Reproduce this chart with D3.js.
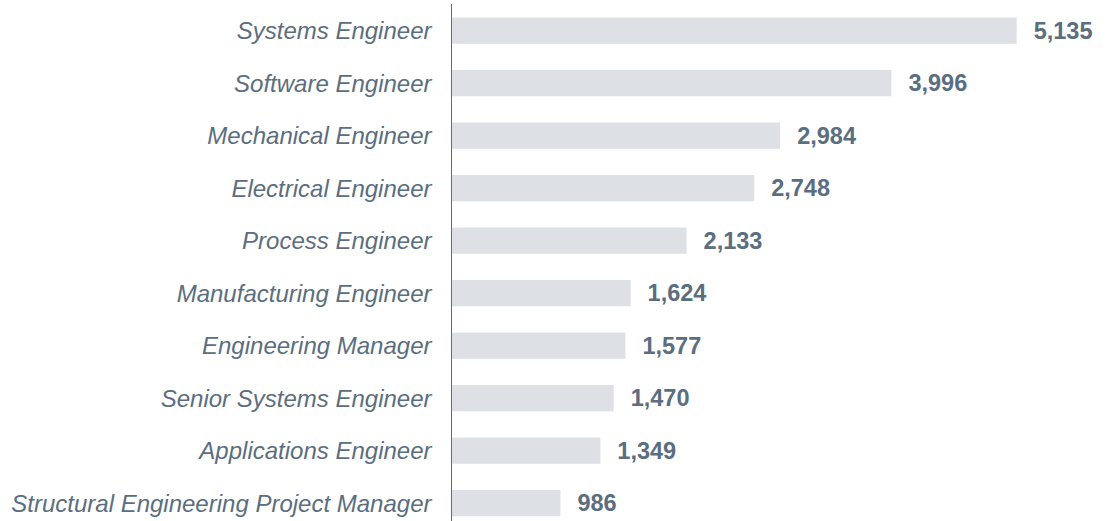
<!DOCTYPE html>
<html>
<head>
<meta charset="utf-8">
<script src="https://cdn.jsdelivr.net/npm/d3@7"></script>
<style>
  html, body { margin: 0; padding: 0; background: #fff; overflow: hidden; }
  svg { display: block; }
</style>
</head>
<body>
<svg id="chart" width="1109" height="521"></svg>
<script>
const categories = [
  "Systems Engineer",
  "Software Engineer",
  "Mechanical Engineer",
  "Electrical Engineer",
  "Process Engineer",
  "Manufacturing Engineer",
  "Engineering Manager",
  "Senior Systems Engineer",
  "Applications Engineer",
  "Structural Engineering Project Manager"
];
const values = [5135, 3996, 2984, 2748, 2133, 1624, 1577, 1470, 1349, 986];

const data = categories.map((c, i) => ({ name: c, value: values[i] }));

const svg = d3.select("#chart");
const axisX = 451.5;
const barX0 = 452;

const x = d3.scaleLinear()
  .domain([0, 5135])
  .range([barX0, 1016.7]);

const y = d3.scaleBand()
  .domain(categories)
  .range([4.4, 529.4])
  .paddingInner(0.5)
  .paddingOuter(0.25);

const textColor = "#5a6e80";

svg.append("g")
  .selectAll("rect")
  .data(data)
  .join("rect")
  .attr("x", barX0)
  .attr("y", d => y(d.name))
  .attr("width", d => x(d.value) - barX0)
  .attr("height", y.bandwidth())
  .attr("fill", "#dde1e5");

svg.append("line")
  .attr("x1", axisX).attr("x2", axisX)
  .attr("y1", 4).attr("y2", 529)
  .attr("stroke", textColor)
  .attr("stroke-width", 1);

svg.append("g")
  .selectAll("text")
  .data(data)
  .join("text")
  .attr("x", axisX - 20)
  .attr("y", d => y(d.name) + y.bandwidth() / 2)
  .attr("dy", "0.35em")
  .attr("text-anchor", "end")
  .attr("font-family", "Liberation Sans, Arial, sans-serif")
  .attr("font-style", "italic")
  .attr("font-size", 24)
  .attr("fill", textColor)
  .text(d => d.name);

const fmt = d3.format(",");
svg.append("g")
  .selectAll("text")
  .data(data)
  .join("text")
  .attr("x", d => x(d.value) + 17)
  .attr("y", d => y(d.name) + y.bandwidth() / 2)
  .attr("dy", "0.35em")
  .attr("font-family", "Liberation Sans, Arial, sans-serif")
  .attr("font-weight", "bold")
  .attr("font-size", 23.5)
  .attr("fill", textColor)
  .text(d => fmt(d.value));
</script>
</body>
</html>
